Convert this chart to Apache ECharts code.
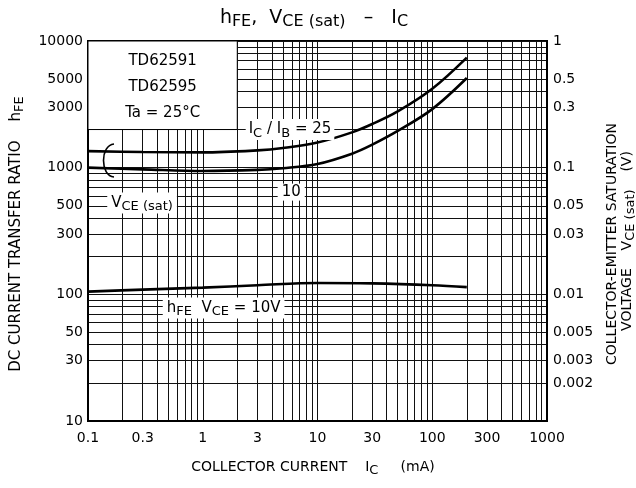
<!DOCTYPE html>
<html><head><meta charset="utf-8">
<script src="https://cdn.jsdelivr.net/npm/echarts@6/dist/echarts.min.js"></script>
<style>html,body{margin:0;padding:0;background:#fff}#c{width:636px;height:488px}</style>
</head><body><div id="c"></div>
<script>
// ---- data ----
const icPoints = [0.1, 0.3, 1, 3, 5, 10, 20, 30, 50, 100, 200];          // mA
const vceSat25 = [0.135, 0.133, 0.132, 0.137, 0.143, 0.158, 0.19, 0.221, 0.278, 0.42, 0.74]; // V, IC/IB = 25
const vceSat10 = [0.100, 0.097, 0.094, 0.096, 0.099, 0.107, 0.129, 0.152, 0.195, 0.29, 0.51]; // V, IC/IB = 10
const hfeIc = [0.1, 0.3, 1, 3, 10, 30, 100, 200];                        // mA
const hfe10V = [105, 109, 113, 118, 123, 122, 118, 114];                 // hFE at VCE = 10 V
const xTickLabels = [0.1, 0.3, 1, 3, 10, 30, 100, 300, 1000];
const hfeTickLabels = [10, 30, 50, 100, 300, 500, 1000, 3000, 5000, 10000];
const vceTickLabels = [0.002, 0.003, 0.005, 0.01, 0.03, 0.05, 0.1, 0.3, 0.5, 1];
const infoLines = ['TD62591', 'TD62595', 'Ta = 25°C'];

function decadeSteps(lo, hi) {
  const out = [];
  for (let d = lo; d < hi * 0.999; d *= 10) {
    for (let k = 1; k <= 9; k++) out.push(+(k * d).toPrecision(6));
  }
  out.push(hi);
  return out;
}
const xGrid = decadeSteps(0.1, 1000);
const yGrid = decadeSteps(10, 10000);
const fmt = v => String(+(+v).toPrecision(6));

const FONT = 'DejaVu Sans';
const chart = echarts.init(document.getElementById('c'), null, {renderer: 'canvas'});
const labelStyle = {color: '#000', fontFamily: FONT, fontSize: 14};

chart.setOption({
  animation: false,
  backgroundColor: '#fff',
  grid: {left: 88, right: 89, top: 41, bottom: 67, show: true, borderColor: '#000', borderWidth: 2,
         containLabel: false, outerBoundsMode: 'none'},
  xAxis: {
    type: 'log', logBase: 10, min: 0.1, max: 1000,
    axisLine: {show: true, lineStyle: {color: '#000', width: 2}},
    axisTick: {show: false, customValues: xGrid},
    splitLine: {show: true, lineStyle: {color: '#111', width: 1}},
    minorTick: {show: false}, minorSplitLine: {show: false},
    axisLabel: Object.assign({customValues: xTickLabels, formatter: fmt, margin: 10}, labelStyle)
  },
  yAxis: [{
    type: 'log', logBase: 10, min: 10, max: 10000, position: 'left',
    axisLine: {show: true, lineStyle: {color: '#000', width: 2}},
    axisTick: {show: false, customValues: yGrid},
    splitLine: {show: true, lineStyle: {color: '#111', width: 1}},
    minorTick: {show: false}, minorSplitLine: {show: false},
    axisLabel: Object.assign({customValues: hfeTickLabels, formatter: fmt, margin: 5}, labelStyle)
  }, {
    type: 'log', logBase: 10, min: 0.001, max: 1, position: 'right',
    axisLine: {show: true, lineStyle: {color: '#000', width: 2}},
    axisTick: {show: false, customValues: vceTickLabels},
    splitLine: {show: false},
    minorTick: {show: false}, minorSplitLine: {show: false},
    axisLabel: Object.assign({customValues: vceTickLabels, formatter: fmt, margin: 6}, labelStyle)
  }],
  series: [{
    name: 'VCE(sat) IC/IB=25', type: 'line', xAxisIndex: 0, yAxisIndex: 1,
    data: icPoints.map((x, i) => [x, vceSat25[i]]),
    smooth: 0.35, showSymbol: false, lineStyle: {color: '#000', width: 2.6}, z: 5
  }, {
    name: 'VCE(sat) IC/IB=10', type: 'line', xAxisIndex: 0, yAxisIndex: 1,
    data: icPoints.map((x, i) => [x, vceSat10[i]]),
    smooth: 0.35, showSymbol: false, lineStyle: {color: '#000', width: 2.6}, z: 5
  }, {
    name: 'hFE VCE=10V', type: 'line', xAxisIndex: 0, yAxisIndex: 0,
    data: hfeIc.map((x, i) => [x, hfe10V[i]]),
    smooth: 0.35, showSymbol: false, lineStyle: {color: '#000', width: 2.6}, z: 5
  }]
});

// ---- annotations placed in data coordinates ----
const P = (x, y) => chart.convertToPixel({xAxisIndex: 0, yAxisIndex: 0}, [x, y]);
const sub = {fontSize: 13, fontFamily: FONT, padding: [8, 0, 0, 0], fill: '#000'};
function txt(pos, text, extra) {
  return {
    type: 'text', x: pos[0], y: pos[1], z: 20,
    style: Object.assign({
      text: text, fill: '#000', fontSize: 15, fontFamily: FONT,
      align: 'center', verticalAlign: 'middle', rich: {sub: sub}
    }, extra || {})
  };
}
const boxTL = P(0.1, 10000), boxBR = P(2, 2000);
const boxCx = (boxTL[0] + boxBR[0]) / 2;
const graphics = [
  {type: 'rect', z: 15, shape: {x: boxTL[0], y: boxTL[1], width: boxBR[0] - boxTL[0], height: boxBR[1] - boxTL[1]},
   style: {fill: '#fff', stroke: '#000', lineWidth: 1}},
  txt([boxCx, boxTL[1] + 20], infoLines[0]),
  txt([boxCx, boxTL[1] + 46], infoLines[1]),
  txt([boxCx, boxTL[1] + 72], infoLines[2]),
  txt(P(5.76, 2000), 'I{sub|C} / I{sub|B} = 25', {backgroundColor: '#fff', padding: [0, 3, 0, 3]}),
  txt(P(5.9, 641), '10', {backgroundColor: '#fff', padding: [1, 4, 1, 4]}),
  txt(P(0.296, 526), 'V{sub|CE (sat)}', {backgroundColor: '#fff', padding: [0, 4, 0, 4]}),
  txt(P(1.52, 78), 'h{sub|FE}  V{sub|CE} = 10V', {backgroundColor: '#fff', padding: [0, 4, 0, 4]}),
  {type: 'bezierCurve', z: 20,
   shape: {x1: 114, y1: 144, cpx1: 100, cpy1: 145, cpx2: 100, cpy2: 176, x2: 114, y2: 177},
   style: {stroke: '#000', lineWidth: 1.6, fill: null}},
  // titles
  txt([314, 18], 'h{s|FE},  V{s|CE (sat)}   –   I{s|C}',
      {fontSize: 19, rich: {s: {fontSize: 16, fontFamily: FONT, padding: [8, 0, 0, 0]}}}),
  txt([313, 467], 'COLLECTOR CURRENT    I{sub|C}     (mA)', {fontSize: 14}),
  Object.assign(txt([16, 234], 'DC CURRENT TRANSFER RATIO    h{sub|FE}', {fontSize: 15}), {rotation: Math.PI / 2}),
  Object.assign(txt([612, 244], 'COLLECTOR-EMITTER SATURATION', {fontSize: 14}), {rotation: Math.PI / 2}),
  Object.assign(txt([627, 241], 'VOLTAGE    V{sub|CE (sat)}    (V)', {fontSize: 14}), {rotation: Math.PI / 2})
];
chart.setOption({graphic: graphics});
</script></body></html>
